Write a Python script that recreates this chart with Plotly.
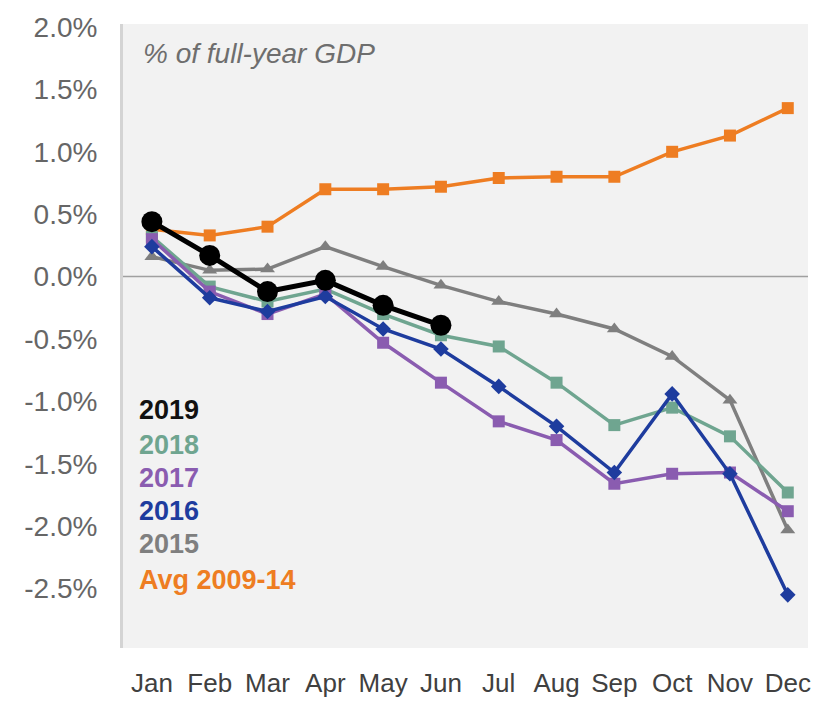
import plotly.graph_objects as go

months = ["Jan", "Feb", "Mar", "Apr", "May", "Jun", "Jul", "Aug", "Sep", "Oct", "Nov", "Dec"]

# Cumulative budget balance, % of full-year GDP
avg_2009_14 = [0.38, 0.33, 0.40, 0.70, 0.70, 0.72, 0.79, 0.80, 0.80, 1.00, 1.13, 1.35]
y2015 = [0.16, 0.05, 0.06, 0.24, 0.08, -0.07, -0.20, -0.30, -0.42, -0.64, -0.99, -2.03]
y2016 = [0.24, -0.17, -0.28, -0.16, -0.42, -0.58, -0.88, -1.20, -1.57, -0.94, -1.58, -2.55]
y2017 = [0.30, -0.12, -0.30, -0.14, -0.53, -0.85, -1.16, -1.31, -1.66, -1.58, -1.57, -1.88]
y2018 = [0.32, -0.08, -0.20, -0.10, -0.30, -0.47, -0.56, -0.85, -1.19, -1.05, -1.28, -1.73]
y2019 = [0.44, 0.17, -0.12, -0.03, -0.23, -0.39]

y_ticks = [2.0, 1.5, 1.0, 0.5, 0.0, -0.5, -1.0, -1.5, -2.0, -2.5, -3.0]

ORANGE = "#EE7D22"
GRAY = "#7F7F7F"
BLUE = "#1E3C9E"
PURPLE = "#8A5CB0"
TEAL = "#6FA590"
BLACK = "#000000"

x_idx = list(range(len(months)))

series = [
    ("Avg 2009-14", avg_2009_14, ORANGE, "square", 12, 3.5),
    ("2015", y2015, GRAY, "triangle-up", 13, 3.5),
    ("2018", y2018, TEAL, "square", 12, 3.5),
    ("2017", y2017, PURPLE, "square", 12, 3.5),
    ("2016", y2016, BLUE, "diamond", 12, 3.5),
    ("2019", y2019, BLACK, "circle", 21, 5),
]

fig = go.Figure()
for name, vals, color, sym, msize, lw in series:
    fig.add_trace(go.Scatter(
        x=x_idx[:len(vals)], y=vals, name=name, mode="lines+markers",
        line=dict(color=color, width=lw),
        marker=dict(symbol=sym, size=msize, color=color),
        showlegend=False,
    ))

# zero line
fig.add_shape(type="line", xref="paper", x0=0, x1=1, yref="y", y0=0, y1=0,
              line=dict(color="#A0A0A0", width=1.5), layer="below")

fig.add_annotation(xref="paper", yref="paper", x=0.027, y=0.953, xanchor="left", yanchor="middle",
                   text="<i>% of full-year GDP</i>", showarrow=False,
                   font=dict(family="Liberation Sans, Arial, sans-serif", size=28, color="#6E6E6E"))

legend_items = [
    ("2019", "#111111"),
    ("2018", TEAL),
    ("2017", PURPLE),
    ("2016", BLUE),
    ("2015", GRAY),
    ("Avg 2009-14", ORANGE),
]
legend_px = [415, 450, 484, 518, 551, 588]
for (label, color), py in zip(legend_items, legend_px):
    fig.add_annotation(xref="paper", yref="paper", x=0.02, y=(657 - py) / 635,
                       xanchor="left", yanchor="middle", showarrow=False,
                       text=f"<b>{label}</b>",
                       font=dict(family="Liberation Sans, Arial, sans-serif", size=27, color=color))

fig.update_layout(
    width=830, height=710,
    margin=dict(l=123, r=22, t=22, b=53),
    paper_bgcolor="white",
    plot_bgcolor="#F2F2F2",
    font=dict(family="Liberation Sans, Arial, sans-serif"),
)
fig.update_xaxes(
    range=[-0.5, 11.35], tickmode="array", tickvals=x_idx, ticktext=months,
    showgrid=False, zeroline=False, showline=False,
    ticks="outside", ticklen=12, tickcolor="rgba(0,0,0,0)",
    tickfont=dict(family="Liberation Sans Narrow, Arial Narrow, Liberation Sans, sans-serif", size=26, color="#404040"),
)
fig.update_yaxes(
    range=[-2.976, 2.024], tickmode="array", tickvals=y_ticks,
    ticktext=[f"{v:.1f}%" for v in y_ticks],
    showgrid=False, zeroline=False,
    showline=True, linecolor="#D4D4D4", linewidth=3,
    ticks="outside", ticklen=17, tickcolor="rgba(0,0,0,0)",
    tickfont=dict(family="Liberation Sans, Arial, sans-serif", size=28, color="#666666"),
)

fig.write_html("out.html")
